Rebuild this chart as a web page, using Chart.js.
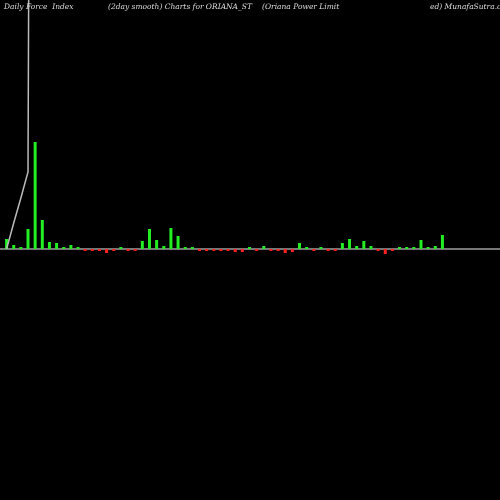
<!DOCTYPE html>
<html>
<head>
<meta charset="utf-8">
<script src="https://cdn.jsdelivr.net/npm/chart.js@4/dist/chart.umd.min.js"></script>
<style>
  html, body { margin: 0; padding: 0; background: #000; }
  #wrap { width: 500px; height: 500px; }
</style>
</head>
<body>
<div id="wrap"><canvas id="c" width="500" height="500"></canvas></div>
<script>
/* ==========================
   DATA
========================== */
const forceIndex = [10, 4, 2, 20, 107, 29, 7, 6, 2, 4, 2, -1, -2, -2, -4, -1, 0.3, -1, -1, 8,
    20, 9, 3, 21, 13, 0.3, 1, -1, -1, -1, -1, -1, -3, -3, 1, -1, 3, -2, -1, -4,
    -3, 6, 1, -1, 2, -1, -1, 6, 10, 3, 8, 3, -1, -5, -1, 2, 1, 1, 9, 2, 3, 14];
const smooth = [0, 26, 51, 77, 2000];
const labels = forceIndex.map((v, i) => String(i + 1));
const titles = [
    ["Daily Force  Index", 4],
    ["(2day smooth) Charts for ORIANA_ST", 108],
    ["(Oriana Power Limit", 262],
    ["ed) MunafaSutra.com", 430]
];

/* ==========================
   PLUGINS
========================== */
const baseline = {
    id: "baseline",
    beforeDatasetsDraw(chart) {
        const ctx = chart.ctx, y = chart.scales.y.getPixelForValue(0);
        ctx.save();
        ctx.fillStyle = "#777";
        ctx.fillRect(0, y - 1, 500, 2);
        ctx.restore();
    },
    afterDraw(chart) {
        const ctx = chart.ctx;
        ctx.save();
        ctx.fillStyle = "#ddd";
        ctx.font = "italic 7.5px 'DejaVu Serif', serif";
        ctx.textBaseline = "top";
        titles.forEach(t => ctx.fillText(t[0], t[1], 3));
        ctx.restore();
    }
};

new Chart(document.getElementById("c"), {
    data: {
        labels,
        datasets: [
            {
                type: "line",
                data: smooth,
                borderColor: "#bbb",
                borderWidth: 1.5,
                pointRadius: 0,
                tension: 0
            },
            {
                type: "bar",
                data: forceIndex,
                backgroundColor: forceIndex.map(v => v >= 0 ? "#22ee22" : "#ff2222"),
                maxBarThickness: 3,
                minBarLength: 2,
                borderWidth: 0
            }
        ]
    },
    options: {
        responsive: false,
        animation: false,
        layout: { padding: { left: 3, right: 54, top: 0, bottom: 0 } },
        plugins: { legend: { display: false }, tooltip: { enabled: false } },
        scales: {
            x: { display: false },
            y: { display: false, min: -251, max: 249 }
        }
    },
    plugins: [baseline]
});
</script>
</body>
</html>
